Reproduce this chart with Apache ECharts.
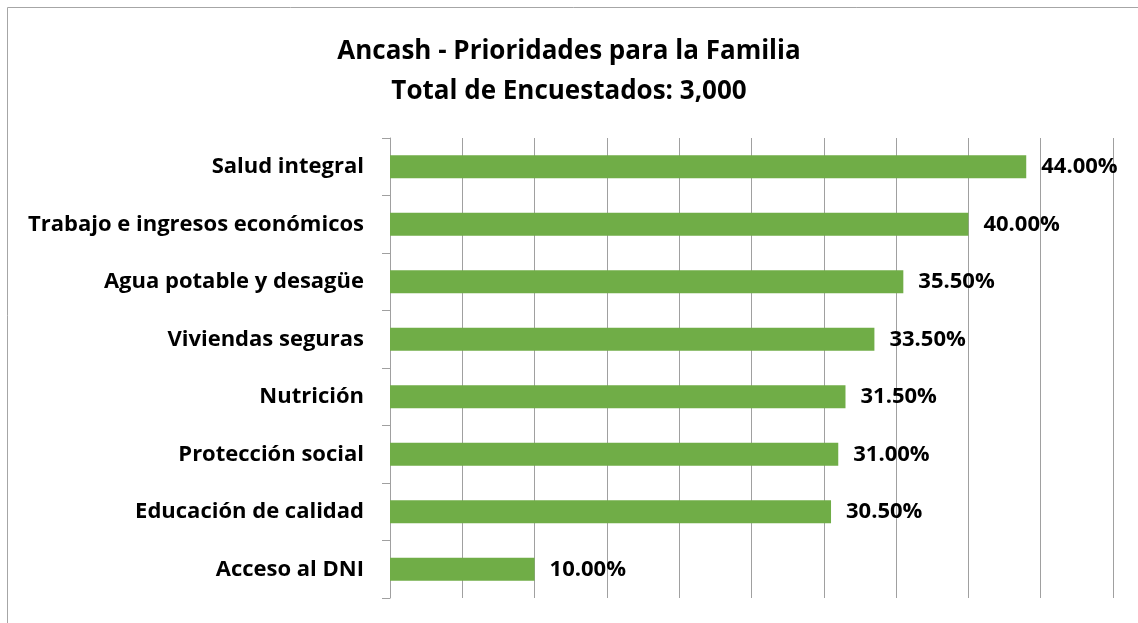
<!DOCTYPE html>
<html>
<head>
<meta charset="utf-8">
<script src="https://cdn.jsdelivr.net/npm/echarts@6/dist/echarts.min.js"></script>
<style>
  html, body { margin: 0; padding: 0; background: #fff; }
  #chart { width: 1138px; height: 623px; }
</style>
</head>
<body>
<div id="chart"></div>
<script>
// categorias de arriba hacia abajo
var categorias = ['Salud integral', 'Trabajo e ingresos económicos', 'Agua potable y desagüe',
    'Viviendas seguras', 'Nutrición', 'Protección social', 'Educación de calidad', 'Acceso al DNI'];
var porcentajes = [44.0, 40.0, 35.5, 33.5, 31.5, 31.0, 30.5, 10.0];
var tituloLineas = ['Ancash - Prioridades para la Familia', 'Total de Encuestados: 3,000'];

var fuente = '"Open Sans", "Noto Sans", sans-serif';
var chart = echarts.init(document.getElementById('chart'));

var option = {
    animation: false,
    title: {
        text: tituloLineas.join('\n'),
        left: 'center',
        top: 27,
        textStyle: {
            fontFamily: fuente,
            fontSize: 26,
            fontWeight: 'bold',
            color: '#000',
            lineHeight: 40
        }
    },
    graphic: [{
        type: 'rect',
        shape: { x: 7.5, y: 7.5, width: 1200, height: 700 },
        style: { fill: 'none', stroke: '#a6a6a6', lineWidth: 1 },
        silent: true
    }],
    grid: { left: 390, right: 25, top: 138, bottom: 25 },
    xAxis: {
        type: 'value',
        min: 0,
        max: 50,
        interval: 5,
        axisLabel: { show: false },
        axisLine: { show: false },
        axisTick: { show: false },
        splitLine: { lineStyle: { color: '#a0a0a0', width: 1 } }
    },
    yAxis: {
        type: 'category',
        inverse: true,
        data: categorias,
        axisLine: { show: true, lineStyle: { color: '#a0a0a0' } },
        axisTick: { show: true, length: 8, lineStyle: { color: '#a0a0a0' } },
        axisLabel: {
            margin: 26,
            fontFamily: fuente,
            fontSize: 22,
            fontWeight: 'bold',
            color: '#000'
        }
    },
    series: [{
        type: 'bar',
        data: porcentajes,
        barWidth: 23,
        itemStyle: { color: '#70ad47' },
        label: {
            show: true,
            position: 'right',
            distance: 15,
            fontFamily: fuente,
            fontSize: 22,
            fontWeight: 'bold',
            color: '#000',
            formatter: function (p) { return p.value.toFixed(2) + '%'; }
        }
    }]
};
chart.setOption(option);
</script>
</body>
</html>
